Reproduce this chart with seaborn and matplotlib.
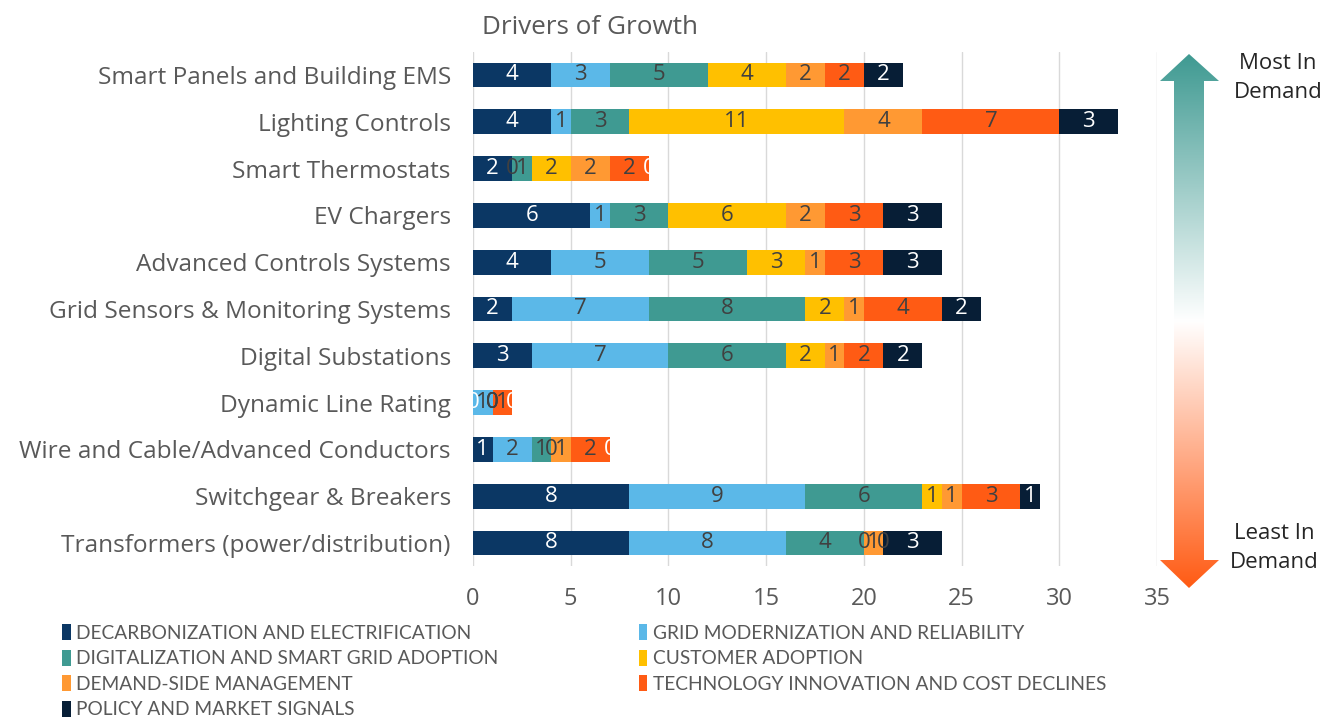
import numpy as np
import pandas as pd
import seaborn as sns
import matplotlib.pyplot as plt
from matplotlib.colors import LinearSegmentedColormap
from matplotlib.patches import Polygon, Patch

#### data
categories = ["Smart Panels and Building EMS", "Lighting Controls", "Smart Thermostats",
              "EV Chargers", "Advanced Controls Systems", "Grid Sensors & Monitoring Systems",
              "Digital Substations", "Dynamic Line Rating", "Wire and Cable/Advanced Conductors",
              "Switchgear & Breakers", "Transformers (power/distribution)"]

decarbonization = [4, 4, 2, 6, 4, 2, 3, 0, 1, 8, 8]
grid_modernization = [3, 1, 0, 1, 5, 7, 7, 1, 2, 9, 8]
digitalization = [5, 3, 1, 3, 5, 8, 6, 0, 1, 6, 4]
customer_adoption = [4, 11, 2, 6, 3, 2, 2, 0, 0, 1, 0]
demand_side = [2, 4, 2, 2, 1, 1, 1, 0, 1, 1, 1]
tech_innovation = [2, 7, 2, 3, 3, 4, 2, 1, 2, 3, 0]
policy_signals = [2, 3, 0, 3, 3, 2, 2, 0, 0, 1, 3]

series_names = ["DECARBONIZATION AND ELECTRIFICATION", "GRID MODERNIZATION AND RELIABILITY",
                "DIGITALIZATION AND SMART GRID ADOPTION", "CUSTOMER ADOPTION",
                "DEMAND-SIDE MANAGEMENT", "TECHNOLOGY INNOVATION AND COST DECLINES",
                "POLICY AND MARKET SIGNALS"]
series_values = [decarbonization, grid_modernization, digitalization, customer_adoption,
                 demand_side, tech_innovation, policy_signals]
colors = ["#0b3764", "#5bb8e8", "#3f9a92", "#ffc000", "#ff9933", "#ff5b14", "#071e36"]
label_colors = ["white", "#404040", "#404040", "#404040", "#404040", "#404040", "white"]

df = pd.DataFrame(dict(zip(series_names, series_values)), index=categories)
cum = df.cumsum(axis=1)

sns.set_theme(style="white")
plt.rcParams['font.family'] = ['Open Sans', 'DejaVu Sans']

fig = plt.figure(figsize=(13.23, 7.17), dpi=100)
ax = fig.add_axes([473/1323, 1-566.4/717, (1157-473)/1323, (566.4-51.6)/717])

# stacked bars: draw cumulative totals from the last series back to the first
for name, col in reversed(list(zip(series_names, colors))):
    sns.barplot(x=cum[name].values, y=categories, color=col, saturation=1,
                width=0.53, errorbar=None, orient="h", ax=ax, linewidth=0)

for name, tc in zip(series_names, label_colors):
    centers = cum[name] - df[name] / 2
    for i, (c, v) in enumerate(zip(centers, df[name])):
        ax.text(c, i, str(v), ha="center", va="center", fontsize=16, color=tc)

ax.set_xlim(0, 35)
ax.set_xticks(range(0, 36, 5))
ax.xaxis.grid(True, color="#d9d9d9", linewidth=1)
ax.set_axisbelow(True)
for s in ax.spines.values():
    s.set_visible(False)
ax.set_xlabel("")
ax.set_ylabel("")
ax.tick_params(axis="y", length=0, pad=16, labelsize=17.6, labelcolor="#595959")
ax.tick_params(axis="x", length=0, pad=15, labelsize=17, labelcolor="#595959")

fig.text(482/1323, 1-28/717, "Drivers of Growth", fontsize=18.8, color="#595959",
         ha="left", va="center")

# legend, row-wise order as in the original
handles = [Patch(facecolor=c, edgecolor="none") for c in colors]
order = [0, 2, 4, 6, 1, 3, 5]
leg = fig.legend([handles[i] for i in order], [series_names[i] for i in order],
                 loc="upper left", bbox_to_anchor=(62/1323, 1-624/717), ncol=2,
                 frameon=False, handlelength=0.45, handleheight=0.9,
                 handletextpad=0.3, columnspacing=7.3, labelspacing=0.42,
                 borderaxespad=0, borderpad=0,
                 prop={"family": ["Lato", "DejaVu Sans"], "size": 13.8})
for t in leg.get_texts():
    t.set_color("#595959")

# gradient double arrow on the right
ov = fig.add_axes([0, 0, 1, 1], facecolor="none")
ov.axis("off")
cmap = LinearSegmentedColormap.from_list("dem", ["#3f9a92", "#ffffff", "#ff5b14"])
grad = np.linspace(0, 1, 256).reshape(-1, 1)
im = ov.imshow(grad, cmap=cmap, aspect="auto", extent=(1158, 1220, 588, 54))
arrow = Polygon([(1189, 54), (1219, 81), (1204, 81), (1204, 560), (1219, 560),
                 (1189, 588), (1160, 560), (1174, 560), (1174, 81), (1160, 81)],
                closed=True, transform=ov.transData, facecolor="none", edgecolor="none")
ov.add_patch(arrow)
im.set_clip_path(arrow)
ov.set_xlim(0, 1323)
ov.set_ylim(717, 0)
ov.text(1278, 78, "Most In\nDemand", ha="center", va="center", fontsize=16,
        color="#262626", linespacing=1.5)
ov.text(1274, 548, "Least In\nDemand", ha="center", va="center", fontsize=16,
        color="#262626", linespacing=1.5)

fig.savefig("out.png", dpi=100)
